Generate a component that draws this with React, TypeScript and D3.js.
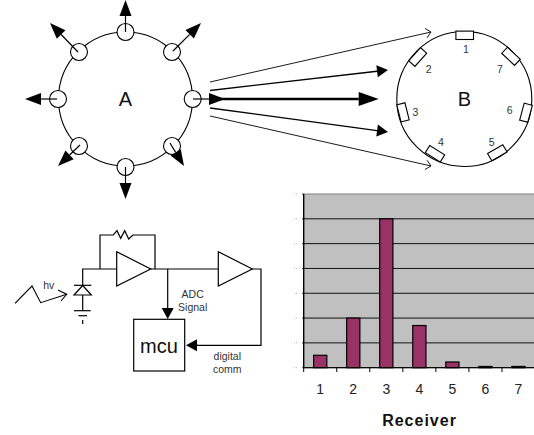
import React from "react";
import * as d3 from "d3";

const receivers = ["1", "2", "3", "4", "5", "6", "7"];
const signal = [0.5, 2.0, 6.0, 1.7, 0.23, 0.05, 0.05];
const yTicks = [0, 1, 2, 3, 4, 5, 6, 7];

const sans = "'Liberation Sans', Arial, sans-serif";
const x = d3.scaleBand<string>().domain(receivers).range([303.7, 535]).paddingInner(0.6).paddingOuter(0.3);
const xOuter = d3.scaleBand<string>().domain(receivers).range([303.7, 535]);
const y = d3.scaleLinear().domain([0, 7]).range([367.7, 194]);

const line = d3.line();
type P = [number, number];

function Arrow({ from, to, w = 1.2, head = 16, half = 6 }: { from: P; to: P; w?: number; head?: number; half?: number }) {
  const a = Math.atan2(to[1] - from[1], to[0] - from[0]);
  const c = Math.cos(a), s = Math.sin(a);
  const b: P = [to[0] - head * c, to[1] - head * s];
  const p1: P = [b[0] - half * s, b[1] + half * c];
  const p2: P = [b[0] + half * s, b[1] - half * c];
  return (
    <g>
      <path d={line([from, b])!} stroke="#000" strokeWidth={w} fill="none" />
      <path d={line([to, p1, p2])! + "Z"} fill="#000" />
    </g>
  );
}

function OpenArrow({ from, to, size = 7 }: { from: P; to: P; size?: number }) {
  const a = Math.atan2(to[1] - from[1], to[0] - from[0]);
  const h = (d: number): P => [to[0] - size * Math.cos(a + d), to[1] - size * Math.sin(a + d)];
  return (
    <g fill="none" stroke="#000" strokeWidth={0.9}>
      <path d={line([from, to])!} />
      <path d={line([h(0.75), to, h(-0.75)])!} />
    </g>
  );
}

const ringA: P[] = [[125.5, 32], [172, 52], [192.7, 99], [172, 146], [125.5, 167], [79, 146], [58, 99], [79, 52]];
const ringArrows: [P, P][] = [
  [[125.5, 32], [125.5, 0]], [[173, 51], [201, 23]], [[193, 99], [225, 99]], [[170, 143], [184, 166]],
  [[125.5, 167], [125.5, 199]], [[80, 145], [58, 166]], [[57, 99], [25, 99]], [[78, 52], [50, 23]],
];
const slots: { c: P; r: number; label: string; l: P }[] = [
  { c: [464.7, 35.3], r: 0, label: "1", l: [466, 48.5] },
  { c: [417.7, 57], r: -48, label: "2", l: [428.7, 68.5] },
  { c: [403, 112.3], r: 76, label: "3", l: [415.3, 111.5] },
  { c: [435, 153.7], r: 32, label: "4", l: [441, 141.5] },
  { c: [497.3, 152.7], r: -30, label: "5", l: [491.7, 141.5] },
  { c: [526, 112.7], r: 105, label: "6", l: [509.7, 109.5] },
  { c: [511, 56.3], r: 43, label: "7", l: [500, 69] },
];

const T = ({ x: tx, y: ty, s, size = 10.5, fill = "#333", bold, ls }: { x: number; y: number; s: string; size?: number; fill?: string; bold?: boolean; ls?: number }) => (
  <text x={tx} y={ty} fontSize={size} fill={fill} fontFamily={sans} textAnchor="middle" dominantBaseline="central" fontWeight={bold ? 700 : 400} letterSpacing={ls}>{s}</text>
);

const wire = (pts: P[], w = 1.2) => <path d={line(pts)!} fill="none" stroke="#000" strokeWidth={w} />;

export default function App() {
  return (
    <svg width={534} height={435} style={{ position: "fixed", left: 0, top: 0, background: "#fff" }}>
      {/* Transmitter ring */}
      <circle cx={125.5} cy={99} r={67} fill="none" stroke="#000" strokeWidth={1.1} />
      {ringA.map((p, i) => <circle key={i} cx={p[0]} cy={p[1]} r={8.5} fill="#fff" stroke="#000" strokeWidth={1.1} />)}
      {ringArrows.map((a, i) => <Arrow key={i} from={a[0]} to={a[1]} />)}
      <T x={125.3} y={98.5} s="A" size={20} fill="#111" />

      {/* Beams */}
      <OpenArrow from={[210, 82]} to={[431, 32]} />
      <Arrow from={[210, 90.5]} to={[388, 70]} w={1.3} head={11} half={6} />
      <Arrow from={[210, 99]} to={[378.7, 99]} w={2.4} head={20} half={7} />
      <Arrow from={[210, 108]} to={[388, 132]} w={1.3} head={11} half={6} />
      <OpenArrow from={[210, 116]} to={[431, 166]} />

      {/* Receiver ring */}
      <circle cx={464.3} cy={99} r={67.5} fill="none" stroke="#000" strokeWidth={1.1} />
      {slots.map(s => (
        <g key={s.label}>
          <rect x={-8.8} y={-4.2} width={17.6} height={8.4} fill="#fff" stroke="#000" strokeWidth={1.1} transform={`translate(${s.c[0]},${s.c[1]}) rotate(${s.r})`} />
          <T x={s.l[0]} y={s.l[1]} s={s.label} />
        </g>
      ))}
      <T x={464.3} y={98.5} s="B" size={20} fill="#111" />

      {/* Circuit */}
      <path d={line([[15, 303.3], [32, 286], [40.7, 302.7], [66.7, 294.3]])!} fill="none" stroke="#000" strokeWidth={1.1} />
      <path d={line([[58, 290], [66.7, 294.3], [61, 301]])!} fill="none" stroke="#000" strokeWidth={1.1} />
      <T x={48.7} y={285} s="hv" />
      {wire([[116.7, 269], [82.7, 269], [82.7, 310.7]])}
      <path d={line([[82.7, 285.5], [74, 295], [91.3, 295]])! + "Z"} fill="#fff" stroke="#000" strokeWidth={1.2} />
      {wire([[74, 285.3], [91.3, 285.3]])}
      {wire([[74, 310.7], [90.7, 310.7]])}
      {wire([[78.5, 315.7], [87, 315.7]])}
      {wire([[82.7, 320], [82.7, 324]])}
      {wire([[100, 269], [100, 235], [113.3, 235], [117, 230.7], [120.7, 238.3], [124.7, 230.7], [128.7, 239], [133, 235], [155, 235], [155, 269]])}
      <path d={line([[116.7, 251.7], [116.7, 286], [150.7, 269]])! + "Z"} fill="#fff" stroke="#000" strokeWidth={1.2} />
      {wire([[150.7, 269], [218.3, 269]])}
      <path d={line([[218.3, 251.7], [218.3, 286], [252.3, 269]])! + "Z"} fill="#fff" stroke="#000" strokeWidth={1.2} />
      {wire([[252.3, 269], [261, 269], [261, 345.3], [197, 345.3]])}
      <Arrow from={[198, 345.3]} to={[186, 345.3]} head={11} half={6} />
      <Arrow from={[167.7, 269]} to={[167.7, 319]} head={11} half={6} />
      <rect x={133.7} y={319.3} width={51} height={51.7} fill="#fff" stroke="#000" strokeWidth={1.2} />
      <T x={159} y={345.5} s="mcu" size={20} fill="#111" />
      <T x={192.7} y={294.3} s="ADC" />
      <T x={192.7} y={307.3} s="Signal" />
      <T x={227.3} y={355.7} s="digital" />
      <T x={227.3} y={369} s="comm" />

      {/* Bar chart */}
      <rect x={303.7} y={194} width={231} height={173.7} fill="#c0c0c0" />
      {yTicks.map(t => (
        <g key={t}>
          <line x1={303.7} x2={534} y1={y(t)} y2={y(t)} stroke={t === 7 ? "#808080" : "#111"} strokeWidth={1} />
          <line x1={294} x2={298} y1={y(t)} y2={y(t)} stroke="#aaa" strokeWidth={0.8} strokeDasharray="1 1" />
          <line x1={302} x2={303.7} y1={y(t)} y2={y(t)} stroke="#000" strokeWidth={0.8} />
        </g>
      ))}
      {receivers.map((r, i) => (
        <rect key={r} x={x(r)} y={y(signal[i])} width={x.bandwidth()} height={y(0) - y(signal[i])} fill="#993366" stroke="#000" strokeWidth={1.2} />
      ))}
      <line x1={303.7} x2={303.7} y1={194} y2={367.7} stroke="#000" strokeWidth={1.4} />
      <line x1={303.7} x2={534} y1={367.7} y2={367.7} stroke="#000" strokeWidth={1} />
      {receivers.map(r => (
        <g key={r}>
          <line x1={xOuter(r)!} x2={xOuter(r)!} y1={367.7} y2={372} stroke="#000" strokeWidth={1} />
          <T x={xOuter(r)! + xOuter.bandwidth() / 2} y={389} s={r} size={14} fill="#222" />
        </g>
      ))}
      <T x={419.5} y={420.5} s="Receiver" size={16} bold ls={1} fill="#111" />
    </svg>
  );
}
